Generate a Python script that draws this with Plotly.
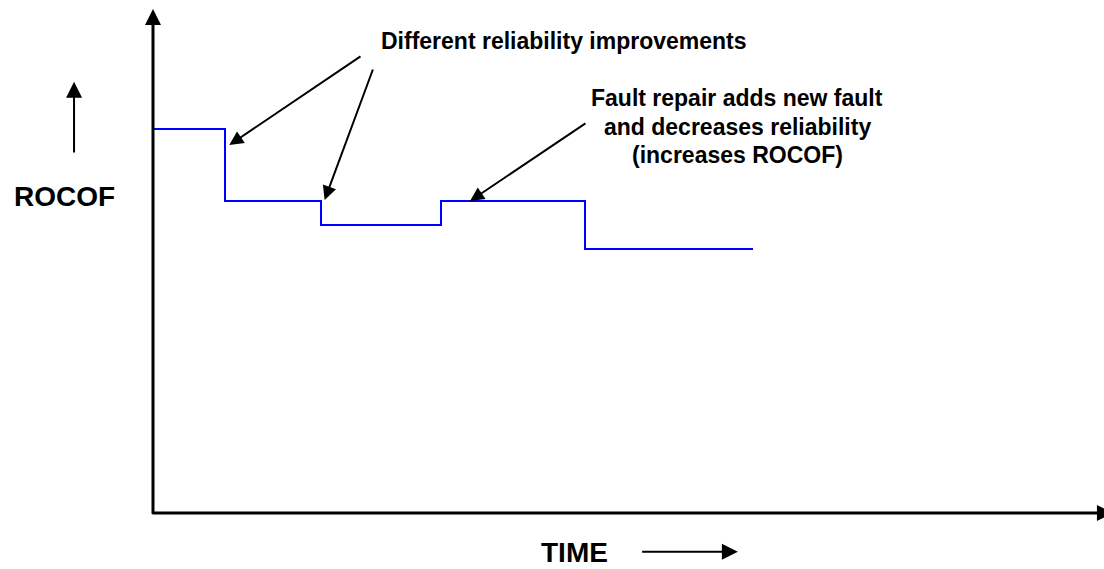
import plotly.graph_objects as go

# Step profile of the rate of occurrence of failures over time
time_breaks = [0, 3, 7, 12, 18, 25]
rocof_levels = [16, 13, 12, 13, 11, 11]

y_axis_top = 21
x_axis_end = 40

FONT = "Liberation Sans, Arial, sans-serif"
UNIT = 24.0  # pixels per data unit
ORIGIN_X, ORIGIN_Y = 153.0, 513.0
W, H = 1104, 569

fig = go.Figure()

fig.add_trace(go.Scatter(
    x=time_breaks, y=rocof_levels,
    mode="lines", line=dict(color="#0000FF", width=2, shape="hv"),
    hoverinfo="skip", showlegend=False,
))


def arrow(x0, y0, x1, y1, width, size):
    fig.add_annotation(
        x=x1, y=y1, ax=x0, ay=y0, xref="x", yref="y", axref="x", ayref="y",
        text="", showarrow=True, arrowhead=2, arrowsize=size,
        arrowwidth=width, arrowcolor="#000000", font=dict(size=1),
        borderpad=0, standoff=0, startstandoff=0,
    )


# axes drawn as arrows
arrow(0, -0.05, 0, y_axis_top, 3, 1.07)
arrow(-0.05, 0, x_axis_end, 0, 3, 1.07)

# axis captions with their direction arrows
arrow(-3.29, 15.0, -3.29, 17.97, 2, 1.6)
arrow(20.36, -1.61, 24.37, -1.61, 2, 1.6)


def label(x, y, text, size):
    fig.add_annotation(
        x=x, y=y, xref="x", yref="y", text="<b>%s</b>" % text, showarrow=False,
        font=dict(family=FONT, size=size, color="#000000"),
        xanchor="center", yanchor="middle", borderpad=0,
    )


label(-3.67, (ORIGIN_Y - 196) / UNIT, "ROCOF", 28)
label((574.5 - ORIGIN_X) / UNIT, (ORIGIN_Y - 552) / UNIT, "TIME", 28)

label((564 - ORIGIN_X) / UNIT, (ORIGIN_Y - 41) / UNIT, "Different reliability improvements", 23)
label((737 - ORIGIN_X) / UNIT, (ORIGIN_Y - 98) / UNIT, "Fault repair adds new fault", 23)
label((737 - ORIGIN_X) / UNIT, (ORIGIN_Y - 127) / UNIT, "and decreases reliability", 23)
label((737 - ORIGIN_X) / UNIT, (ORIGIN_Y - 155) / UNIT, "(increases ROCOF)", 23)

# callout arrows
arrow(8.667, 19.04, 3.18, 15.33, 2, 1.4)
arrow(9.17, 18.5, 7.15, 13.04, 2, 1.4)
arrow(18.04, 16.25, 13.21, 13.0, 2, 1.4)

fig.update_layout(
    width=W, height=H,
    margin=dict(l=0, r=0, t=0, b=0),
    paper_bgcolor="white", plot_bgcolor="white",
    xaxis=dict(range=[-ORIGIN_X / UNIT, (W - ORIGIN_X) / UNIT], visible=False, fixedrange=True),
    yaxis=dict(range=[-(H - ORIGIN_Y) / UNIT, ORIGIN_Y / UNIT], visible=False, fixedrange=True),
    showlegend=False,
)

fig.write_html("out.html", config={"displayModeBar": False})
